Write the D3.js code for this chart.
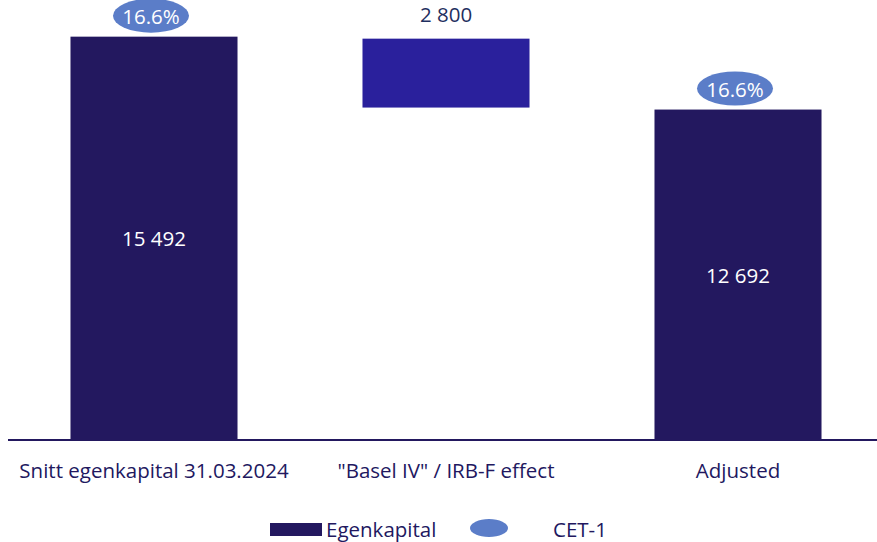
<!DOCTYPE html>
<html><head><meta charset="utf-8">
<script src="https://cdn.jsdelivr.net/npm/d3@7"></script>
<style>body{margin:0;background:#fff}svg{display:block}text{font-family:"Open Sans",sans-serif}</style>
</head><body>
<svg id="c" width="877" height="542"></svg>
<script>
const categories = ["Snitt egenkapital 31.03.2024", "\"Basel IV\" / IRB-F effect", "Adjusted"];
const barStart = [0, 12692, 0];
const barEnd = [15492, 15492, 12692];
const valueLabels = ["15 492", "2 800", "12 692"];
const cet1 = ["16.6%", null, "16.6%"];
const legendLabels = ["Egenkapital", "CET-1"];

const svg = d3.select("#c");
const dark = "#23185f", mid = "#2a209c", ell = "#5b7dc8", txt = "#22185f";
const fs = 20.5;
const x = d3.scaleBand().domain(categories).range([8, 884]).paddingInner(0.428).paddingOuter(0.214);
const y = d3.scaleLinear().domain([0, 16900]).range([440, 0]);

svg.selectAll("rect.bar").data(categories).join("rect")
  .attr("x", d => x(d)).attr("width", x.bandwidth())
  .attr("y", (d,i) => y(barEnd[i]) + (i === 1 ? 2 : 0))
  .attr("height", (d,i) => y(barStart[i]) - y(barEnd[i]) - (i === 1 ? 4 : 0))
  .attr("fill", (d,i) => i === 1 ? mid : dark);

svg.append("line").attr("x1", 8).attr("x2", 877).attr("y1", y(0)).attr("y2", y(0))
  .attr("stroke", dark).attr("stroke-width", 2);

categories.forEach((c,i) => {
  const cx = x(c) + x.bandwidth()/2;
  if (i === 1) {
    svg.append("text").attr("x", cx).attr("y", y(barEnd[i]) - 15).attr("text-anchor","middle")
      .attr("font-size", fs).attr("fill", "#1f2f60").text(valueLabels[i]);
  } else {
    svg.append("text").attr("x", cx).attr("y", (y(barStart[i]) + y(barEnd[i]))/2 + 8).attr("text-anchor","middle")
      .attr("font-size", fs).attr("fill", "#fff").text(valueLabels[i]);
  }
  if (cet1[i]) {
    const cy = y(barEnd[i]) - 21;
    svg.append("ellipse").attr("cx", cx - 3).attr("cy", cy).attr("rx", 38).attr("ry", 17).attr("fill", ell);
    svg.append("text").attr("x", cx - 3).attr("y", cy + 8).attr("text-anchor","middle")
      .attr("font-size", fs).attr("fill", "#fff").text(cet1[i]);
  }
  svg.append("text").attr("x", cx).attr("y", 478).attr("text-anchor","middle")
    .attr("font-size", fs).attr("fill", txt).text(c);
});

// legend
svg.append("rect").attr("x", 270).attr("y", 523).attr("width", 52).attr("height", 13).attr("fill", dark);
svg.append("text").attr("x", 326).attr("y", 537).attr("font-size", fs).attr("fill", txt).text(legendLabels[0]);
svg.append("ellipse").attr("cx", 489).attr("cy", 528).attr("rx", 19).attr("ry", 9).attr("fill", ell);
svg.append("text").attr("x", 553).attr("y", 537).attr("font-size", fs).attr("fill", txt).text(legendLabels[1]);
</script>
</body></html>
